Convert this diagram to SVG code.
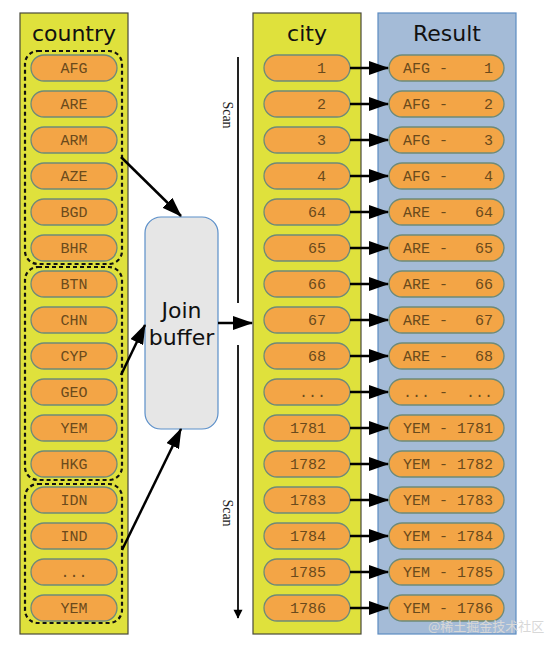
<svg xmlns="http://www.w3.org/2000/svg" width="547" height="649" viewBox="0 0 547 649">
<style>
.col{stroke:#4a4a3a;stroke-width:1.2}
.yel{fill:#dfe13c}
.blu{fill:#a4bbd7;stroke:#5d8cc2;stroke-width:1.2}
.pill{fill:#f3a546;stroke:#6e8a78;stroke-width:1.3}
.pt{font-family:"Liberation Mono",monospace;font-size:15px;fill:#6a4a1c}
.pre text{white-space:pre}
.title{font-family:"DejaVu Sans",sans-serif;font-size:22px;fill:#111;text-anchor:middle}
.grp{fill:none;stroke:#111;stroke-width:2.2;stroke-dasharray:4,3}
.ln{stroke:#000;stroke-width:2.5;fill:none}
.scan{font-family:"Liberation Serif",serif;font-size:14px;fill:#222}
</style>
<defs>
<marker id="ah" viewBox="0 0 20 14" refX="19" refY="7" markerWidth="20" markerHeight="14" markerUnits="userSpaceOnUse" orient="auto"><path d="M0,0 L20,7 L0,14 z" fill="#000"/></marker>
<marker id="sh" viewBox="0 0 12 16" refX="11" refY="6" markerWidth="16" markerHeight="12" markerUnits="userSpaceOnUse" orient="auto"><path d="M0,0 L12,6 L0,12 z" fill="#000"/></marker>
</defs>

<g id="country">
<rect x="20" y="13" width="108" height="621" class="col yel"/>
<text x="74" y="41" class="title">country</text>
<rect x="25" y="51" width="97" height="213" rx="13" class="grp"/>
<rect x="25" y="267" width="97" height="213" rx="13" class="grp"/>
<rect x="25" y="484" width="97" height="139" rx="13" class="grp"/>
<g class="pt" text-anchor="middle">
<rect x="31" y="55" width="86" height="26" rx="13" class="pill"/><text x="74" y="73">AFG</text>
<rect x="31" y="91" width="86" height="26" rx="13" class="pill"/><text x="74" y="109">ARE</text>
<rect x="31" y="127" width="86" height="26" rx="13" class="pill"/><text x="74" y="145">ARM</text>
<rect x="31" y="163" width="86" height="26" rx="13" class="pill"/><text x="74" y="181">AZE</text>
<rect x="31" y="199" width="86" height="26" rx="13" class="pill"/><text x="74" y="217">BGD</text>
<rect x="31" y="235" width="86" height="26" rx="13" class="pill"/><text x="74" y="253">BHR</text>
<rect x="31" y="271" width="86" height="26" rx="13" class="pill"/><text x="74" y="289">BTN</text>
<rect x="31" y="307" width="86" height="26" rx="13" class="pill"/><text x="74" y="325">CHN</text>
<rect x="31" y="343" width="86" height="26" rx="13" class="pill"/><text x="74" y="361">CYP</text>
<rect x="31" y="379" width="86" height="26" rx="13" class="pill"/><text x="74" y="397">GEO</text>
<rect x="31" y="415" width="86" height="26" rx="13" class="pill"/><text x="74" y="433">YEM</text>
<rect x="31" y="451" width="86" height="26" rx="13" class="pill"/><text x="74" y="469">HKG</text>
<rect x="31" y="487" width="86" height="26" rx="13" class="pill"/><text x="74" y="505">IDN</text>
<rect x="31" y="523" width="86" height="26" rx="13" class="pill"/><text x="74" y="541">IND</text>
<rect x="31" y="559" width="86" height="26" rx="13" class="pill"/><text x="74" y="577">...</text>
<rect x="31" y="595" width="86" height="26" rx="13" class="pill"/><text x="74" y="613">YEM</text>
</g>
</g>

<g id="joinbuffer">
<rect x="145" y="217" width="73" height="212" rx="16" fill="#e6e6e6" stroke="#5b8fc9" stroke-width="1.2"/>
<text x="181.5" y="318" class="title">Join</text>
<text x="181.5" y="345" class="title">buffer</text>
</g>

<g id="city">
<rect x="253" y="13" width="108" height="621" class="col yel"/>
<text x="307" y="41" class="title">city</text>
<g class="pt" text-anchor="end">
<rect x="264" y="55" width="86" height="26" rx="13" class="pill"/><text x="326" y="73">1</text>
<rect x="264" y="91" width="86" height="26" rx="13" class="pill"/><text x="326" y="109">2</text>
<rect x="264" y="127" width="86" height="26" rx="13" class="pill"/><text x="326" y="145">3</text>
<rect x="264" y="163" width="86" height="26" rx="13" class="pill"/><text x="326" y="181">4</text>
<rect x="264" y="199" width="86" height="26" rx="13" class="pill"/><text x="326" y="217">64</text>
<rect x="264" y="235" width="86" height="26" rx="13" class="pill"/><text x="326" y="253">65</text>
<rect x="264" y="271" width="86" height="26" rx="13" class="pill"/><text x="326" y="289">66</text>
<rect x="264" y="307" width="86" height="26" rx="13" class="pill"/><text x="326" y="325">67</text>
<rect x="264" y="343" width="86" height="26" rx="13" class="pill"/><text x="326" y="361">68</text>
<rect x="264" y="379" width="86" height="26" rx="13" class="pill"/><text x="326" y="397">...</text>
<rect x="264" y="415" width="86" height="26" rx="13" class="pill"/><text x="326" y="433">1781</text>
<rect x="264" y="451" width="86" height="26" rx="13" class="pill"/><text x="326" y="469">1782</text>
<rect x="264" y="487" width="86" height="26" rx="13" class="pill"/><text x="326" y="505">1783</text>
<rect x="264" y="523" width="86" height="26" rx="13" class="pill"/><text x="326" y="541">1784</text>
<rect x="264" y="559" width="86" height="26" rx="13" class="pill"/><text x="326" y="577">1785</text>
<rect x="264" y="595" width="86" height="26" rx="13" class="pill"/><text x="326" y="613">1786</text>
</g>
</g>

<g id="result">
<rect x="378" y="13" width="138" height="621" class="blu"/>
<text x="447" y="41" class="title">Result</text>
<g class="pt pre">
<rect x="389" y="55" width="115" height="26" rx="13" class="pill"/><text x="403" y="73">AFG -    1</text>
<rect x="389" y="91" width="115" height="26" rx="13" class="pill"/><text x="403" y="109">AFG -    2</text>
<rect x="389" y="127" width="115" height="26" rx="13" class="pill"/><text x="403" y="145">AFG -    3</text>
<rect x="389" y="163" width="115" height="26" rx="13" class="pill"/><text x="403" y="181">AFG -    4</text>
<rect x="389" y="199" width="115" height="26" rx="13" class="pill"/><text x="403" y="217">ARE -   64</text>
<rect x="389" y="235" width="115" height="26" rx="13" class="pill"/><text x="403" y="253">ARE -   65</text>
<rect x="389" y="271" width="115" height="26" rx="13" class="pill"/><text x="403" y="289">ARE -   66</text>
<rect x="389" y="307" width="115" height="26" rx="13" class="pill"/><text x="403" y="325">ARE -   67</text>
<rect x="389" y="343" width="115" height="26" rx="13" class="pill"/><text x="403" y="361">ARE -   68</text>
<rect x="389" y="379" width="115" height="26" rx="13" class="pill"/><text x="403" y="397">... -  ...</text>
<rect x="389" y="415" width="115" height="26" rx="13" class="pill"/><text x="403" y="433">YEM - 1781</text>
<rect x="389" y="451" width="115" height="26" rx="13" class="pill"/><text x="403" y="469">YEM - 1782</text>
<rect x="389" y="487" width="115" height="26" rx="13" class="pill"/><text x="403" y="505">YEM - 1783</text>
<rect x="389" y="523" width="115" height="26" rx="13" class="pill"/><text x="403" y="541">YEM - 1784</text>
<rect x="389" y="559" width="115" height="26" rx="13" class="pill"/><text x="403" y="577">YEM - 1785</text>
<rect x="389" y="595" width="115" height="26" rx="13" class="pill"/><text x="403" y="613">YEM - 1786</text>
</g>
</g>

<g id="scan">
<line x1="238" y1="57" x2="238" y2="303" stroke="#222" stroke-width="2"/>
<line x1="238" y1="345" x2="238" y2="618" stroke="#222" stroke-width="2" marker-end="url(#sh)"/>
<text class="scan" transform="translate(223,115) rotate(90)" text-anchor="middle">Scan</text>
<text class="scan" transform="translate(223,513) rotate(90)" text-anchor="middle">Scan</text>
</g>

<g id="connectors">
<line x1="121" y1="157" x2="181" y2="216" class="ln" marker-end="url(#ah)"/>
<line x1="121" y1="375" x2="145" y2="325" class="ln" marker-end="url(#ah)"/>
<line x1="122" y1="550" x2="181" y2="429" class="ln" marker-end="url(#ah)"/>
<line x1="218" y1="323" x2="252" y2="323" class="ln" marker-end="url(#ah)"/>
<line x1="350" y1="68" x2="388" y2="68" class="ln" marker-end="url(#ah)"/>
<line x1="350" y1="104" x2="388" y2="104" class="ln" marker-end="url(#ah)"/>
<line x1="350" y1="140" x2="388" y2="140" class="ln" marker-end="url(#ah)"/>
<line x1="350" y1="176" x2="388" y2="176" class="ln" marker-end="url(#ah)"/>
<line x1="350" y1="212" x2="388" y2="212" class="ln" marker-end="url(#ah)"/>
<line x1="350" y1="248" x2="388" y2="248" class="ln" marker-end="url(#ah)"/>
<line x1="350" y1="284" x2="388" y2="284" class="ln" marker-end="url(#ah)"/>
<line x1="350" y1="320" x2="388" y2="320" class="ln" marker-end="url(#ah)"/>
<line x1="350" y1="356" x2="388" y2="356" class="ln" marker-end="url(#ah)"/>
<line x1="350" y1="392" x2="388" y2="392" class="ln" marker-end="url(#ah)"/>
<line x1="350" y1="428" x2="388" y2="428" class="ln" marker-end="url(#ah)"/>
<line x1="350" y1="464" x2="388" y2="464" class="ln" marker-end="url(#ah)"/>
<line x1="350" y1="500" x2="388" y2="500" class="ln" marker-end="url(#ah)"/>
<line x1="350" y1="536" x2="388" y2="536" class="ln" marker-end="url(#ah)"/>
<line x1="350" y1="572" x2="388" y2="572" class="ln" marker-end="url(#ah)"/>
<line x1="350" y1="608" x2="388" y2="608" class="ln" marker-end="url(#ah)"/>
</g>

<text x="428" y="631" font-family="'Noto Sans CJK SC',sans-serif" font-size="13" fill="#d8d8d8">@稀土掘金技术社区</text>
</svg>
